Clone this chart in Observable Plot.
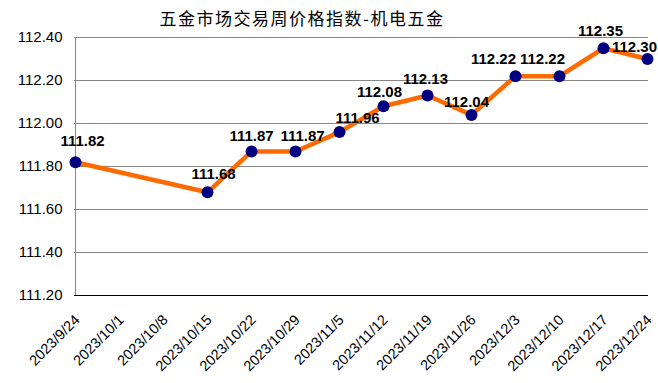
<!DOCTYPE html>
<html>
<head>
<meta charset="utf-8">
<script src="https://cdn.jsdelivr.net/npm/d3@7"></script>
<script src="https://cdn.jsdelivr.net/npm/@observablehq/plot@0.6"></script>
<style>
  body { margin: 0; background: #fff; }
  #wrap { position: relative; width: 658px; height: 383px; overflow: hidden; }
  #title { position: absolute; left: 0; width: 604px; top: 9px; text-align: center;
           font-family: "Noto Sans CJK SC", sans-serif; font-size: 17px; line-height: 17px;
           letter-spacing: 1.5px; color: #000; }
  svg text { font-family: "Liberation Sans", Arial, sans-serif; }
</style>
</head>
<body>
<div id="wrap">
  <div id="title">五金市场交易周价格指数-机电五金</div>
</div>
<script>
const titleText = "五金市场交易周价格指数-机电五金";
const weekLabels = ["2023/9/24","2023/10/1","2023/10/8","2023/10/15","2023/10/22","2023/10/29","2023/11/5","2023/11/12","2023/11/19","2023/11/26","2023/12/3","2023/12/10","2023/12/17","2023/12/24"];
const dates = ["2023/9/24","2023/10/15","2023/10/22","2023/10/29","2023/11/5","2023/11/12","2023/11/19","2023/11/26","2023/12/3","2023/12/10","2023/12/17","2023/12/24"];
const values = [111.82,111.68,111.87,111.87,111.96,112.08,112.13,112.04,112.22,112.22,112.35,112.30];
const yTicks = [111.2,111.4,111.6,111.8,112.0,112.2,112.4];

// label nudges (styling only)
const labelDx = [7, 6, 0, 7, 18, -4, -2, -5, -22, -17, -3, -13];
const labelGap = [16, 13, 10, 10, 9, 9, 12, 8, 12, 12, 12, 7];

const data = dates.map((d, i) => ({date: d, value: values[i], i}));

const chart = Plot.plot({
  width: 658,
  height: 383,
  marginLeft: 74,
  marginRight: 10,
  marginTop: 37,
  marginBottom: 88,
  style: {background: "transparent", overflow: "visible"},
  x: {type: "point", domain: weekLabels, padding: 0},
  y: {domain: [111.2, 112.4]},
  marks: [
    Plot.gridY(yTicks, {stroke: "#868686", strokeOpacity: 1, strokeWidth: 1}),
    Plot.ruleX([weekLabels[0]], {stroke: "#868686", strokeWidth: 1}),
    Plot.ruleY([111.2], {stroke: "#000", strokeWidth: 1.2}),
    Plot.axisY(yTicks, {tickSize: 0, tickPadding: 12, fontSize: 15, tickFormat: d => d.toFixed(2), fill: "#000", label: null}),
    Plot.axisX({tickSize: 0, tickPadding: 22, dx: 2, tickRotate: -45, fontSize: 14.5, fill: "#000", label: null}),
    Plot.line(data, {x: "date", y: "value", stroke: "#ff6a00", strokeWidth: 4.5, strokeLinejoin: "round"}),
    Plot.dot(data, {x: "date", y: "value", r: 6, fill: "#000080", stroke: "none"}),
    ...data.map(d => Plot.text([d], {x: "date", y: "value", text: v => v.value.toFixed(2),
      dx: labelDx[d.i], dy: -labelGap[d.i], lineAnchor: "bottom", fontSize: 15, fontWeight: "bold", fill: "#000"}))
  ]
});
document.getElementById("wrap").appendChild(chart);
</script>
</body>
</html>
